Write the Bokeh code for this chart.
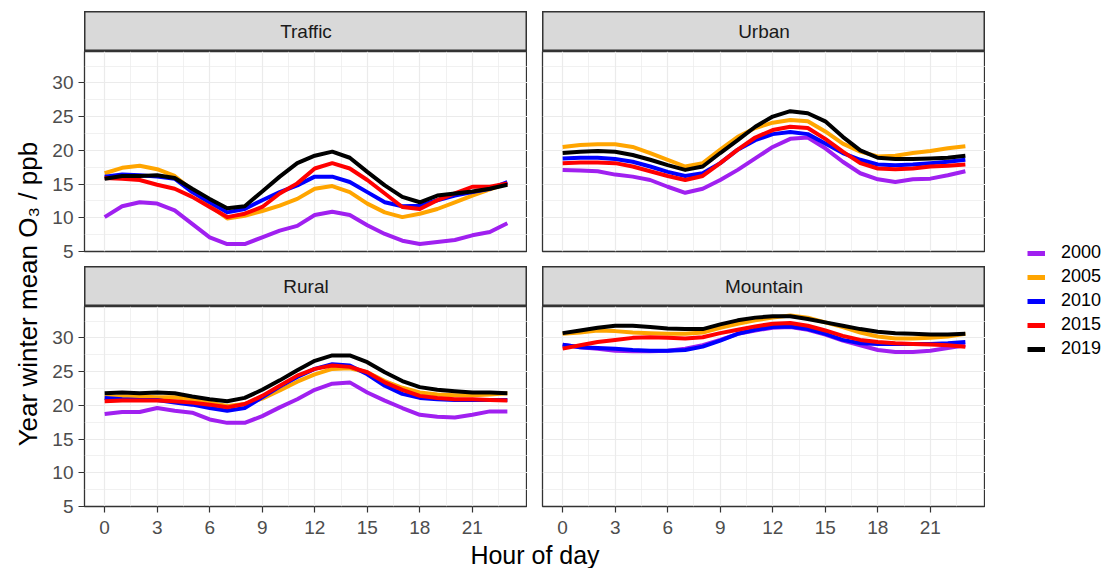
import math
from bokeh.plotting import figure
from bokeh.layouts import row, column, Spacer
from bokeh.models import Label, Legend, LegendItem, FixedTicker, Range1d
from bokeh.embed import file_html
from bokeh.resources import INLINE

FONT = "Liberation Sans"

hours = list(range(24))
years = ["2000", "2005", "2010", "2015", "2019"]
colors = ["#A020F0", "#FFA500", "#0000FF", "#FF0000", "#000000"]
sites = ["Traffic", "Urban", "Rural", "Mountain"]
x_ticks = [0, 3, 6, 9, 12, 15, 18, 21]
x_minor = [1.5, 4.5, 7.5, 10.5, 13.5, 16.5, 19.5, 22.5]
y_ticks = [5, 10, 15, 20, 25, 30]
y_minor = [7.5, 12.5, 17.5, 22.5, 27.5, 32.5]

traffic_2000 = [10.1, 11.7, 12.3, 12.1, 11.1, 9.1, 7.1, 6.1, 6.1, 7.1, 8.1, 8.8,
                10.4, 10.9, 10.4, 8.9, 7.6, 6.6, 6.1, 6.4, 6.7, 7.4, 7.9, 9.2]
traffic_2005 = [16.6, 17.4, 17.7, 17.2, 16.2, 14.1, 11.8, 9.9, 10.3, 11.0, 11.8, 12.8,
                14.3, 14.7, 13.8, 12.1, 10.8, 10.1, 10.6, 11.3, 12.3, 13.3, 14.2, 15.1]
traffic_2010 = [16.1, 16.4, 16.3, 16.1, 15.8, 13.8, 12.3, 10.8, 11.3, 12.6, 13.8, 14.8,
                16.1, 16.1, 15.3, 13.8, 12.3, 11.7, 11.8, 12.6, 13.3, 13.8, 14.3, 15.3]
traffic_2015 = [15.9, 15.8, 15.6, 14.9, 14.3, 13.1, 11.6, 10.1, 10.6, 11.6, 13.6, 15.1,
                17.3, 18.1, 17.3, 15.6, 13.6, 11.6, 11.3, 12.6, 13.6, 14.6, 14.6, 15.1]
traffic_2019 = [15.8, 16.2, 16.2, 16.3, 15.9, 14.3, 12.8, 11.4, 11.7, 13.9, 16.1, 18.1,
                19.2, 19.8, 18.9, 16.8, 14.8, 13.1, 12.3, 13.3, 13.6, 13.9, 14.3, 14.9]

urban_2000 = [17.1, 17.0, 16.9, 16.4, 16.1, 15.6, 14.6, 13.7, 14.3, 15.6, 17.1, 18.8,
              20.5, 21.7, 21.9, 20.3, 18.3, 16.6, 15.7, 15.3, 15.7, 15.8, 16.3, 16.9]
urban_2005 = [20.5, 20.8, 20.9, 20.9, 20.5, 19.6, 18.6, 17.6, 18.1, 20.1, 22.0, 23.3,
              24.1, 24.5, 24.3, 22.8, 21.0, 19.8, 19.1, 19.2, 19.6, 19.9, 20.3, 20.6]
urban_2010 = [18.8, 18.9, 18.9, 18.7, 18.3, 17.6, 16.8, 16.2, 16.6, 18.1, 20.1, 21.5,
              22.4, 22.7, 22.4, 21.0, 19.6, 18.6, 17.9, 17.8, 17.9, 18.1, 18.3, 18.6]
urban_2015 = [18.1, 18.2, 18.2, 18.1, 17.6, 16.9, 16.2, 15.6, 16.2, 18.1, 20.1, 21.9,
              23.0, 23.5, 23.3, 21.7, 19.8, 18.1, 17.3, 17.2, 17.3, 17.6, 17.7, 17.9]
urban_2019 = [19.6, 19.8, 19.9, 19.8, 19.3, 18.6, 17.8, 17.1, 17.6, 19.6, 21.5, 23.5,
              25.0, 25.8, 25.5, 24.3, 22.0, 20.0, 18.9, 18.7, 18.7, 18.8, 18.9, 19.2]

rural_2000 = [18.7, 19.0, 19.0, 19.6, 19.2, 18.9, 17.9, 17.4, 17.4, 18.4, 19.7, 20.9,
              22.3, 23.2, 23.4, 21.9, 20.7, 19.6, 18.6, 18.3, 18.2, 18.6, 19.1, 19.1]
rural_2005 = [21.2, 21.3, 21.3, 21.2, 21.2, 20.9, 20.4, 19.9, 20.2, 21.0, 22.2, 23.5,
              24.6, 25.4, 25.5, 24.9, 23.6, 22.6, 21.9, 21.6, 21.5, 21.5, 21.6, 21.8]
rural_2010 = [21.1, 20.9, 20.8, 20.8, 20.4, 20.1, 19.6, 19.2, 19.6, 21.2, 22.8, 24.2,
              25.4, 26.1, 25.9, 24.6, 22.9, 21.7, 21.1, 20.9, 20.8, 20.8, 20.8, 20.8]
rural_2015 = [20.6, 20.7, 20.7, 20.7, 20.6, 20.4, 20.1, 19.7, 20.2, 21.4, 22.9, 24.4,
              25.4, 25.9, 25.7, 24.9, 23.4, 22.3, 21.4, 21.1, 20.9, 20.9, 20.8, 20.7]
rural_2019 = [21.8, 21.9, 21.8, 21.9, 21.8, 21.3, 20.9, 20.6, 21.1, 22.3, 23.7, 25.2,
              26.6, 27.4, 27.4, 26.4, 24.9, 23.6, 22.7, 22.3, 22.1, 21.9, 21.9, 21.8]

mountain_2000 = [29.0, 28.6, 28.4, 28.1, 28.0, 28.0, 28.1, 28.4, 28.9, 29.7, 30.6, 31.1,
                 31.5, 31.6, 31.2, 30.5, 29.6, 28.9, 28.2, 27.9, 27.9, 28.1, 28.5, 28.9]
mountain_2005 = [30.6, 30.8, 31.1, 31.0, 30.8, 30.7, 30.6, 30.6, 30.8, 31.5, 32.1, 32.6,
                 33.0, 33.3, 33.0, 32.3, 31.6, 30.8, 30.2, 29.9, 29.9, 30.0, 30.2, 30.6]
mountain_2010 = [29.0, 28.6, 28.5, 28.4, 28.2, 28.1, 28.1, 28.2, 28.7, 29.6, 30.6, 31.2,
                 31.6, 31.7, 31.3, 30.6, 29.7, 29.2, 29.1, 29.1, 29.1, 29.1, 29.2, 29.4]
mountain_2015 = [28.4, 28.9, 29.4, 29.7, 30.0, 30.1, 30.0, 29.9, 30.1, 30.7, 31.2, 31.7,
                 32.1, 32.2, 31.8, 31.1, 30.3, 29.7, 29.4, 29.2, 29.1, 29.0, 28.9, 28.7]
mountain_2019 = [30.7, 31.1, 31.5, 31.8, 31.8, 31.6, 31.4, 31.3, 31.3, 32.0, 32.6, 33.0,
                 33.2, 33.2, 32.8, 32.3, 31.8, 31.3, 30.9, 30.7, 30.6, 30.5, 30.5, 30.6]

site_data = {
    "Traffic": [traffic_2000, traffic_2005, traffic_2010, traffic_2015, traffic_2019],
    "Urban": [urban_2000, urban_2005, urban_2010, urban_2015, urban_2019],
    "Rural": [rural_2000, rural_2005, rural_2010, rural_2015, rural_2019],
    "Mountain": [mountain_2000, mountain_2005, mountain_2010, mountain_2015, mountain_2019],
}

# ---- layout sizes (px) ----
YT_W = 48        # y-title column
AX_W = 36        # y tick label area
FRAME_W = 443
GAP_W = 15
FRAME_H = 200
STRIP_H = 40
GAP_H = 15
XAX_H = 34
XT_H = 28
TOP_PAD = 11
TOTAL_H = TOP_PAD + STRIP_H + FRAME_H + GAP_H + STRIP_H + FRAME_H + XAX_H + XT_H
LEG_W = 120


def blank_fig(w, h, **kw):
    f = figure(width=w, height=h, x_range=Range1d(0, w), y_range=Range1d(0, h),
               x_axis_location=None, y_axis_location=None, min_border=0,
               toolbar_location=None, output_backend="svg", **kw)
    f.xgrid.visible = False
    f.ygrid.visible = False
    return f


def strip(name):
    s = blank_fig(FRAME_W, STRIP_H, background_fill_color="#D9D9D9",
                  border_fill_color="#D9D9D9")
    s.outline_line_color = "#333333"
    s.outline_line_width = 2
    s.add_layout(Label(x=FRAME_W / 2, y=STRIP_H / 2, text=name, text_align="center",
                       text_baseline="middle", text_font=FONT, text_font_size="19px",
                       text_color="#1A1A1A"))
    return s


def panel(name, left, bottom):
    w = (AX_W if left else GAP_W) + FRAME_W
    h = FRAME_H + (XAX_H if bottom else GAP_H)
    p = figure(width=w, height=h, x_range=Range1d(-1.15, 24.15), y_range=Range1d(5, 34.65),
               x_axis_location="below" if bottom else None,
               y_axis_location="left" if left else None,
               min_border_left=AX_W if left else GAP_W, min_border_right=0,
               min_border_top=0, min_border_bottom=XAX_H if bottom else GAP_H,
               toolbar_location=None, output_backend="svg")
    p.background_fill_color = "white"
    p.border_fill_color = "white"
    p.outline_line_color = "#333333"
    p.outline_line_width = 1.3
    xt = FixedTicker(ticks=x_ticks, minor_ticks=x_minor)
    yt = FixedTicker(ticks=y_ticks, minor_ticks=y_minor)
    p.xgrid.ticker = xt
    p.ygrid.ticker = yt
    for g in (p.xgrid, p.ygrid):
        g.grid_line_color = "#EBEBEB"
        g.grid_line_width = 1.2
        g.minor_grid_line_color = "#EBEBEB"
        g.minor_grid_line_width = 0.7
    for ax, tk in ((p.xaxis, xt), (p.yaxis, yt)):
        ax.ticker = tk
        ax.axis_line_color = None
        ax.major_tick_line_color = "#333333"
        ax.major_tick_line_width = 1.2
        ax.major_tick_out = 6
        ax.major_tick_in = 0
        ax.minor_tick_line_color = None
        ax.major_label_text_font = FONT
        ax.major_label_text_font_size = "19px"
        ax.major_label_text_color = "#4D4D4D"
    p.xaxis.major_label_standoff = 8
    p.yaxis.major_label_standoff = 5
    for vals, c in zip(site_data[name], colors):
        p.line(hours, vals, line_color=c, line_width=4, line_join="round")
    return p


strips = [strip(s) for s in sites]
panels = [panel("Traffic", True, False), panel("Urban", False, False),
          panel("Rural", True, True), panel("Mountain", False, True)]

# y title
yt_fig = blank_fig(YT_W, TOTAL_H)
yt_fig.outline_line_color = None
yt_fig.add_layout(Label(x=27, y=TOTAL_H - 290, text="Year winter mean O\u2083  / ppb",
                        angle=math.pi / 2, text_align="center", text_baseline="middle",
                        text_font=FONT, text_font_size="26px", text_color="black"))

# x title
xt_fig = blank_fig(FRAME_W * 2 + GAP_W, XT_H)
xt_fig.outline_line_color = None
xt_fig.add_layout(Label(x=(FRAME_W * 2 + GAP_W) / 2, y=13.5, text="Hour of day",
                        text_align="center", text_baseline="middle",
                        text_font=FONT, text_font_size="25px", text_color="black"))

# legend
leg_fig = blank_fig(LEG_W, TOTAL_H)
leg_fig.outline_line_color = None
items = []
for yr, c, vals in zip(years, colors, site_data["Traffic"]):
    r = leg_fig.line(hours, vals, line_color=c, line_width=5, visible=False)
    items.append(LegendItem(label=yr, renderers=[r]))
legend = Legend(items=items, location=(42, TOTAL_H - 359), glyph_width=18, glyph_height=20,
                label_height=20, spacing=3, label_standoff=16, padding=0, margin=0,
                border_line_color=None, background_fill_alpha=0, inactive_fill_alpha=0,
                label_text_font=FONT, label_text_font_size="18px",
                label_text_color="black")
leg_fig.add_layout(legend)

middle = column(
    Spacer(height=TOP_PAD, width=10),
    row(Spacer(width=AX_W, height=STRIP_H), strips[0], Spacer(width=GAP_W, height=STRIP_H), strips[1]),
    row(panels[0], panels[1]),
    row(Spacer(width=AX_W, height=STRIP_H), strips[2], Spacer(width=GAP_W, height=STRIP_H), strips[3]),
    row(panels[2], panels[3]),
    row(Spacer(width=AX_W, height=XT_H), xt_fig),
)
layout = row(yt_fig, middle, leg_fig)

open("out.html", "w").write(file_html(layout, INLINE))
